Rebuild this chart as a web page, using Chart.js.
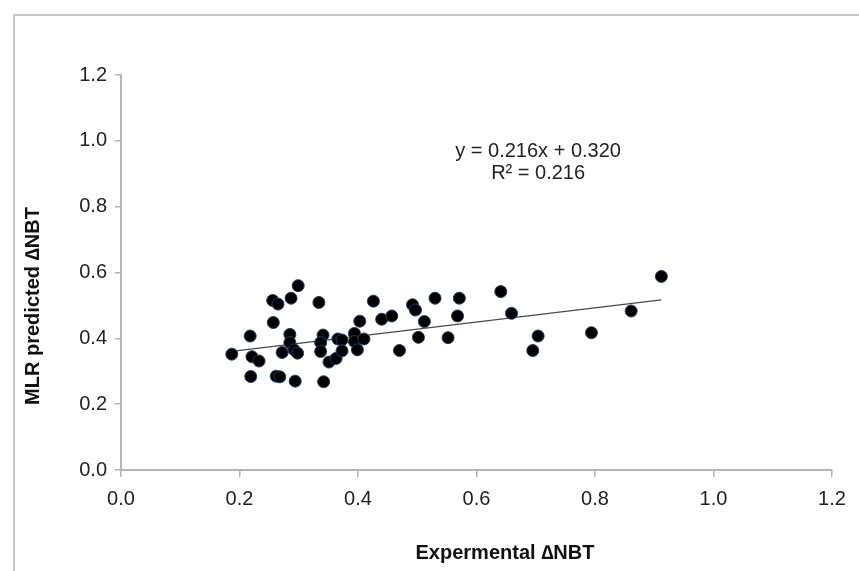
<!doctype html>
<html lang="en">
<head>
  <meta charset="utf-8">
  <title>MLR predicted vs experimental ΔNBT</title>
  <script src="https://cdn.jsdelivr.net/npm/chart.js/dist/chart.umd.min.js"></script>
  <style>
    body { margin: 0; background: #fff; }
    .frame {
      position: absolute; left: 13px; top: 14px; width: 860px; height: 570px;
      border-top: 2px solid #c8c8c8; border-left: 2px solid #c8c8c8;
    }
    .chartBox { position: absolute; left: 0; top: 0; width: 859px; height: 571px; }
  </style>
</head>
<body>
  <div class="frame"></div>
  <div class="chartBox"><canvas id="myChart" width="859" height="571"></canvas></div>

  <script>
    // experimental ΔNBT values
    const xValues = [
      0.187, 0.218, 0.221, 0.233, 0.219, 0.257, 0.256, 0.265, 0.287, 0.299,
      0.262, 0.268, 0.272, 0.285, 0.285, 0.292, 0.298, 0.294, 0.334, 0.341,
      0.337, 0.337, 0.342, 0.351, 0.363, 0.366, 0.373, 0.373, 0.394, 0.403,
      0.394, 0.399, 0.410, 0.426, 0.440, 0.457, 0.470, 0.492, 0.497, 0.512,
      0.502, 0.530, 0.552, 0.571, 0.568, 0.641, 0.659, 0.704, 0.695, 0.794,
      0.861, 0.912
    ];
    // MLR predicted ΔNBT values
    const yValues = [
      0.352, 0.407, 0.344, 0.331, 0.284, 0.448, 0.515, 0.504, 0.522, 0.560,
      0.285, 0.283, 0.357, 0.412, 0.387, 0.365, 0.355, 0.270, 0.509, 0.410,
      0.387, 0.360, 0.268, 0.328, 0.339, 0.398, 0.395, 0.362, 0.415, 0.452,
      0.390, 0.365, 0.398, 0.513, 0.458, 0.468, 0.363, 0.502, 0.486, 0.451,
      0.403, 0.522, 0.402, 0.522, 0.468, 0.542, 0.476, 0.407, 0.363, 0.417,
      0.483, 0.588
    ];
    const slope = 0.216;
    const intercept = 0.320;
    const equationLines = ['y = 0.216x + 0.320', 'R² = 0.216'];
    const tickValues = [0, 0.2, 0.4, 0.6, 0.8, 1.0, 1.2];

    const points = xValues.map((x, i) => ({ x: x, y: yValues[i] }));
    const xMin = Math.min(...xValues), xMax = Math.max(...xValues);
    const trend = [
      { x: xMin, y: slope * xMin + intercept },
      { x: xMax, y: slope * xMax + intercept }
    ];

    const FONT = '"Liberation Sans", Arial, sans-serif';

    // titles and the equation label
    const textPlugin = {
      id: 'texts',
      afterDraw(chart) {
        const ctx = chart.ctx;
        const xs = chart.scales.x, ys = chart.scales.y;
        ctx.save();
        ctx.fillStyle = '#222';
        ctx.textAlign = 'center';
        ctx.textBaseline = 'middle';
        ctx.font = '20px ' + FONT;
        ctx.fillText(equationLines[0], xs.getPixelForValue(0.704), ys.getPixelForValue(0.969));
        ctx.fillText(equationLines[1], xs.getPixelForValue(0.704), ys.getPixelForValue(0.902));

        ctx.fillStyle = '#111';
        ctx.font = 'bold 20px ' + FONT;
        ctx.fillText('Expermental ∆NBT', 505, 553);
        ctx.translate(33, 306);
        ctx.rotate(-Math.PI / 2);
        ctx.fillText('MLR predicted ∆NBT', 0, 0);
        ctx.restore();
      }
    };

    const config = {
      type: 'scatter',
      data: {
        datasets: [
          {
            label: 'trend',
            type: 'line',
            data: trend,
            borderColor: '#4a4a4a',
            borderWidth: 1.2,
            pointRadius: 0,
            fill: false,
            order: 2
          },
          {
            label: 'data',
            data: points,
            backgroundColor: '#000',
            borderColor: '#1d3f66',
            borderWidth: 1,
            pointRadius: 6,
            order: 1
          }
        ]
      },
      options: {
        responsive: false,
        animation: false,
        layout: { padding: { left: 0, top: 75, right: 27, bottom: 0 } },
        plugins: { legend: { display: false }, tooltip: { enabled: false } },
        scales: {
          x: {
            type: 'linear', min: 0, max: 1.2,
            afterFit: s => { s.height = 101; },
            afterBuildTicks: s => { s.ticks = tickValues.map(v => ({ value: v })); },
            border: { color: '#b4b4b4', width: 2 },
            grid: { drawOnChartArea: false, color: '#b4b4b4', tickLength: 7, lineWidth: 1.5 },
            ticks: {
              padding: 10, color: '#222',
              font: { family: FONT, size: 20 },
              callback: v => v.toFixed(1)
            }
          },
          y: {
            type: 'linear', min: 0, max: 1.2,
            afterFit: s => { s.width = 121; },
            afterBuildTicks: s => { s.ticks = tickValues.map(v => ({ value: v })); },
            border: { color: '#b4b4b4', width: 2 },
            grid: { drawOnChartArea: false, color: '#b4b4b4', tickLength: 6, lineWidth: 1.5 },
            ticks: {
              padding: 8, color: '#222',
              font: { family: FONT, size: 20 },
              callback: v => v.toFixed(1)
            }
          }
        }
      },
      plugins: [textPlugin]
    };

    new Chart(document.getElementById('myChart'), config);
  </script>
</body>
</html>
